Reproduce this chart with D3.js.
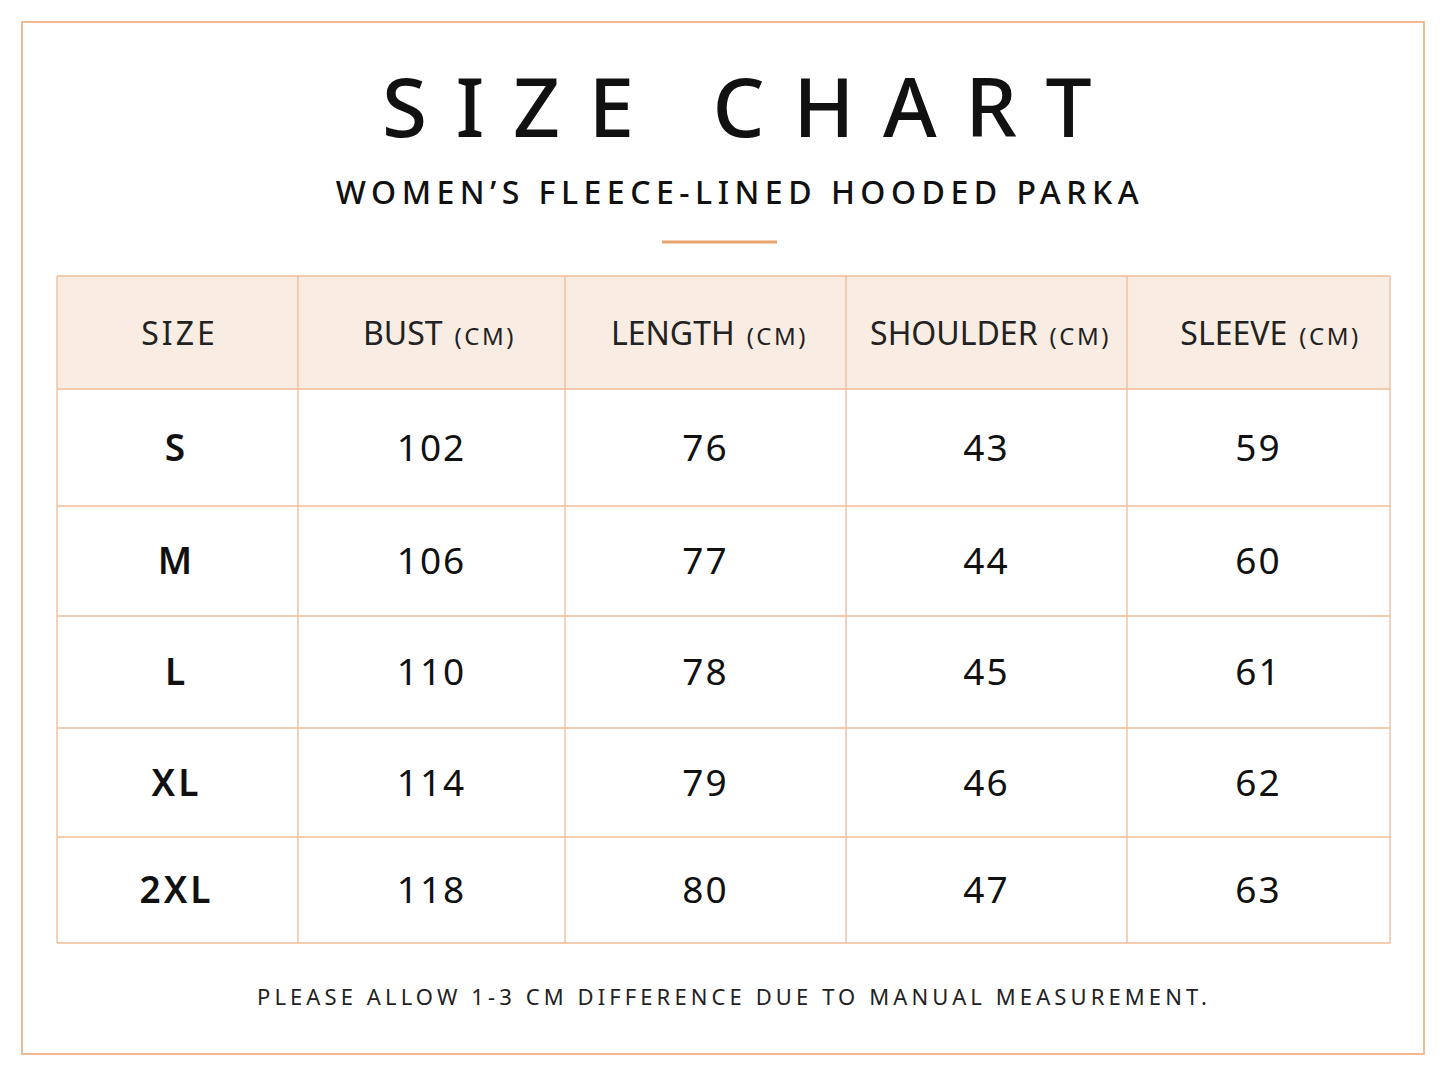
<!DOCTYPE html>
<html><head><meta charset="utf-8">
<script src="https://cdn.jsdelivr.net/npm/d3@7"></script>
<style>body{margin:0;background:#fff}</style></head>
<body><svg id="c" width="1448" height="1086"></svg>
<script>
const columns = ["SIZE","BUST","LENGTH","SHOULDER","SLEEVE"];
const units = ["","(CM)","(CM)","(CM)","(CM)"];
const sizes = ["S","M","L","XL","2XL"];
const bust = [102,106,110,114,118];
const length = [76,77,78,79,80];
const shoulder = [43,44,45,46,47];
const sleeve = [59,60,61,62,63];

const svg = d3.select("#c");
const orange = "#f0bb94", font = "'Noto Sans', 'Open Sans', sans-serif";
svg.append("rect").attr("x",22).attr("y",22).attr("width",1402).attr("height",1032).attr("fill","none").attr("stroke",orange).attr("stroke-width",2);
svg.append("text").attr("x",751).attr("y",137).attr("text-anchor","middle").attr("font-family",font).attr("font-size",82).attr("font-weight",500).attr("letter-spacing",28.5).attr("fill","#111").text("SIZE CHART");
svg.append("text").attr("x",740).attr("y",204).attr("text-anchor","middle").attr("font-family",font).attr("font-size",32).attr("font-weight",500).attr("letter-spacing",5.5).attr("fill","#111").text("WOMEN’S FLEECE-LINED HOODED PARKA");
svg.append("line").attr("x1",662).attr("x2",777).attr("y1",242).attr("y2",242).attr("stroke","#e9a36e").attr("stroke-width",3);

const colEdges = [57,298,565,846,1127,1390];
const rowEdges = [276,389,506,616,728,837,943];
const headerShift = [2,8,4,4,12];
const rows = sizes.map((s,i)=>[s,bust[i],length[i],shoulder[i],sleeve[i]]);
const x = i=>colEdges[i], y = i=>rowEdges[i];
svg.append("rect").attr("x",x(0)).attr("y",y(0)).attr("width",x(5)-x(0)).attr("height",y(1)-y(0)).attr("fill","#f9ede3");
const g = svg.append("g").attr("stroke",orange).attr("stroke-width",1.3);
colEdges.forEach(c=>g.append("line").attr("x1",c).attr("x2",c).attr("y1",y(0)).attr("y2",y(6)));
rowEdges.forEach(r=>g.append("line").attr("x1",x(0)).attr("x2",x(5)).attr("y1",r).attr("y2",r));

columns.forEach((c,i)=>{
  const t = svg.append("text").attr("x",(x(i)+x(i+1))/2+headerShift[i]).attr("y",(y(0)+y(1))/2+12).attr("text-anchor","middle").attr("font-family",font).attr("fill","#222");
  t.append("tspan").attr("font-size",32).attr("letter-spacing",i==0?3:0).text(c);
  if(units[i]) t.append("tspan").attr("font-size",24).attr("letter-spacing",2.5).attr("dx",12).text(units[i]);
});
rows.forEach((r,ri)=>r.forEach((v,ci)=>{
  svg.append("text").attr("x",(x(ci)+x(ci+1))/2 - (ci==0?1:0)).attr("y",(y(ri+1)+y(ri+2))/2+13).attr("text-anchor","middle")
    .attr("font-family",font).attr("font-size",37).attr("font-weight",ci==0?600:400).attr("letter-spacing",ci==0?3:2).attr("fill","#111").text(v);
}));
svg.append("text").attr("x",734).attr("y",1005).attr("text-anchor","middle").attr("font-family",font).attr("font-size",22).attr("letter-spacing",4.1).attr("fill","#222").text("PLEASE ALLOW 1-3 CM DIFFERENCE DUE TO MANUAL MEASUREMENT.");
</script></body></html>
